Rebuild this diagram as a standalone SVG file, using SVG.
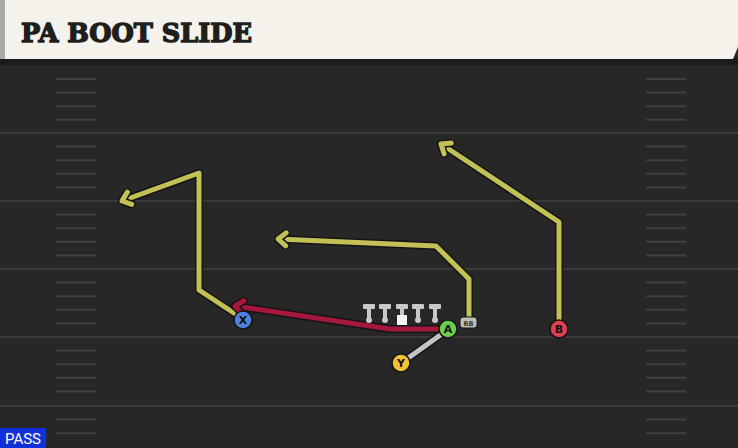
<svg xmlns="http://www.w3.org/2000/svg" width="738" height="448" viewBox="0 0 738 448">
<defs>
<style>
.yard{stroke:#3a3a3a;stroke-width:2}
.hash{stroke:#404040;stroke-width:2}
.out{fill:none;stroke:#141414;stroke-width:8;stroke-linejoin:round;stroke-linecap:round}
.yel{fill:none;stroke:#c3c155;stroke-width:5;stroke-linejoin:round;stroke-linecap:round}
.red{fill:none;stroke:#a5173b;stroke-width:5;stroke-linejoin:round;stroke-linecap:round}
.gry{fill:none;stroke:#c4c4c4;stroke-width:5;stroke-linecap:round}
.pl{stroke:#151515;stroke-width:1.5}
.lbl{font-family:"DejaVu Sans","Liberation Sans",sans-serif;font-size:11px;font-weight:bold;fill:#111;text-anchor:middle}
.ol{fill:#c9c9c9}
</style>
<marker id="ay" viewBox="-12 -10 16 20" refX="0" refY="0" markerWidth="16" markerHeight="20" orient="auto" markerUnits="userSpaceOnUse">
<path d="M-8,-6.5 L0,0 L-8,6.5" fill="none" stroke="#141414" stroke-width="8" stroke-linecap="round" stroke-linejoin="round"/>
<path d="M-8,-6.5 L0,0 L-8,6.5" fill="none" stroke="#c3c155" stroke-width="5" stroke-linecap="round" stroke-linejoin="round"/>
</marker>
<marker id="ar" viewBox="-12 -10 16 20" refX="0" refY="0" markerWidth="16" markerHeight="20" orient="auto" markerUnits="userSpaceOnUse">
<path d="M-8,-6.5 L0,0 L-8,6.5" fill="none" stroke="#141414" stroke-width="8" stroke-linecap="round" stroke-linejoin="round"/>
<path d="M-8,-6.5 L0,0 L-8,6.5" fill="none" stroke="#a5173b" stroke-width="5" stroke-linecap="round" stroke-linejoin="round"/>
</marker>
</defs>
<rect width="738" height="448" fill="#272727"/>
<g id="field">
<line class="yard" x1="0" y1="133" x2="738" y2="133"/>
<line class="yard" x1="0" y1="201" x2="738" y2="201"/>
<line class="yard" x1="0" y1="269" x2="738" y2="269"/>
<line class="yard" x1="0" y1="337" x2="738" y2="337"/>
<line class="yard" x1="0" y1="406" x2="738" y2="406"/>
<g id="hashes">
<path class="hash" d="M56,79H96M56,92.6H96M56,106.2H96M56,119.8H96M56,146.6H96M56,160.2H96M56,173.8H96M56,187.4H96M56,214.6H96M56,228.2H96M56,241.8H96M56,255.4H96M56,282.6H96M56,296.2H96M56,309.8H96M56,323.4H96M56,350.6H96M56,364.2H96M56,377.8H96M56,391.4H96M56,419.6H96M56,433.2H96"/>
<path class="hash" d="M646,79H686M646,92.6H686M646,106.2H686M646,119.8H686M646,146.6H686M646,160.2H686M646,173.8H686M646,187.4H686M646,214.6H686M646,228.2H686M646,241.8H686M646,255.4H686M646,282.6H686M646,296.2H686M646,309.8H686M646,323.4H686M646,350.6H686M646,364.2H686M646,377.8H686M646,391.4H686M646,419.6H686M646,433.2H686"/>
</g>
</g>
<g id="header">
<rect x="0" y="58" width="738" height="7" fill="#1b1b1b"/>
<polygon points="0,0 738,0 738,47 733,59 0,59" fill="#f5f2ec"/>
<rect x="0" y="0" width="5" height="59" fill="#a9a9a5"/>
<text x="21" y="42" font-family="'DejaVu Serif','Liberation Serif',serif" font-weight="900" font-size="26" fill="#1e1e1e" stroke="#1e1e1e" stroke-width="1.4" textLength="231" lengthAdjust="spacingAndGlyphs">PA BOOT SLIDE</text>
</g>
<g id="connectors">
<polyline class="out" points="240,317 199,290 199,173 122,201"/>
<polyline class="yel" points="240,317 199,290 199,173 122,201" marker-end="url(#ay)"/>
<polyline class="out" points="559,320 559,222 441,144"/>
<polyline class="yel" points="559,320 559,222 441,144" marker-end="url(#ay)"/>
<polyline class="out" points="469,318 469,279 436,246 278,239"/>
<polyline class="yel" points="469,318 469,279 436,246 278,239" marker-end="url(#ay)"/>
<polyline class="out" points="442,329 390,329 235,306"/>
<polyline class="red" points="442,329 390,329 235,306" marker-end="url(#ar)"/>
<line class="out" x1="404" y1="361" x2="446" y2="331"/>
<line class="gry" x1="404" y1="361" x2="446" y2="331"/>
</g>
<g id="oline">
<g id="lt"><rect class="ol" x="363" y="304" width="12" height="5" rx="1"/><rect class="ol" x="367" y="308" width="4" height="12"/><circle class="ol" cx="369" cy="320" r="3"/></g>
<g id="lg"><rect class="ol" x="379" y="304" width="12" height="5" rx="1"/><rect class="ol" x="383" y="308" width="4" height="12"/><circle class="ol" cx="385" cy="320" r="3"/></g>
<g id="c"><rect class="ol" x="396" y="304" width="12" height="5" rx="1"/><rect class="ol" x="400" y="308" width="4" height="8"/><rect x="397" y="315" width="10" height="10" fill="#f4f4f4"/></g>
<g id="rg"><rect class="ol" x="412" y="304" width="12" height="5" rx="1"/><rect class="ol" x="416" y="308" width="4" height="12"/><circle class="ol" cx="418" cy="320" r="3"/></g>
<g id="rt"><rect class="ol" x="429" y="304" width="12" height="5" rx="1"/><rect class="ol" x="433" y="308" width="4" height="12"/><circle class="ol" cx="435" cy="320" r="3"/></g>
</g>
<g id="rb">
<rect x="460" y="317" width="17" height="11" rx="3" fill="#bdbdbd" stroke="#151515" stroke-width="1"/>
<text x="468.5" y="325.5" font-family="'DejaVu Sans','Liberation Sans',sans-serif" font-size="6.5" font-weight="bold" fill="#333" text-anchor="middle">RB</text>
</g>
<g id="playerA"><circle class="pl" cx="448" cy="329" r="9" fill="#69cf48"/><text class="lbl" x="448" y="333">A</text></g>
<g id="playerY"><circle class="pl" cx="401" cy="363" r="9" fill="#f1c232"/><text class="lbl" x="401" y="367">Y</text></g>
<g id="playerX"><circle class="pl" cx="243" cy="320" r="9" fill="#4f80e1"/><text class="lbl" x="243" y="324">X</text></g>
<g id="playerB"><circle class="pl" cx="559" cy="329" r="9" fill="#e0404f"/><text class="lbl" x="559" y="333">B</text></g>
<g id="pass">
<rect x="0" y="428" width="46" height="20" fill="#1030d8"/>
<text x="23" y="444" font-family="'Roboto','Liberation Sans',sans-serif" font-size="15" fill="#ffffff" text-anchor="middle">PASS</text>
</g>
</svg>
